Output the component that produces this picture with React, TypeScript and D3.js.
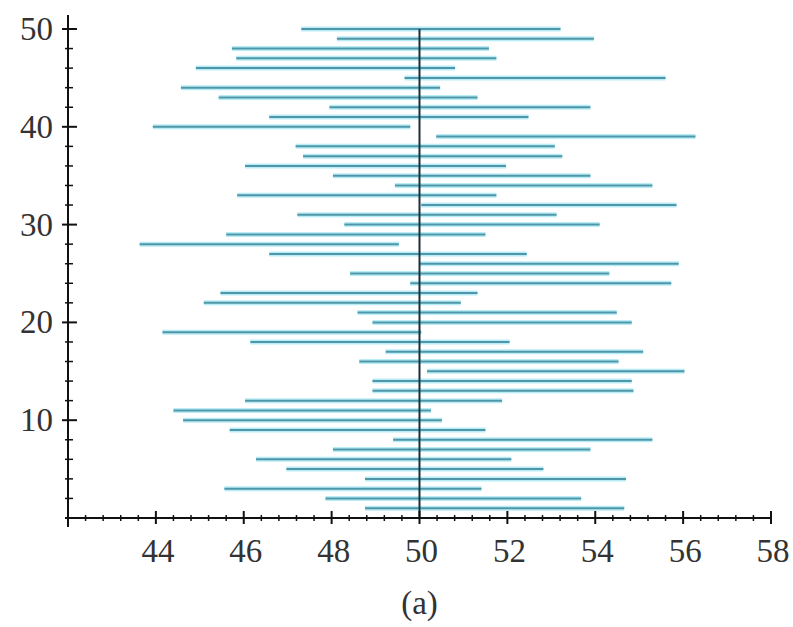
import * as React from 'react';
import * as d3 from 'd3';

// sample index 1..50 (bottom to top)
const lower = [
  48.76, 47.86, 45.56, 48.76, 46.97, 46.28, 48.03, 49.4, 45.68, 44.62,
  44.4, 46.03, 48.93, 48.93, 50.17, 48.63, 49.23, 46.15, 44.15, 48.93,
  48.59, 45.09, 45.47, 49.79, 48.42, 50.0, 46.58, 43.63, 45.6, 48.29,
  47.22, 50.04, 45.85, 49.44, 48.03, 46.03, 47.35, 47.18, 50.38, 43.93,
  46.58, 47.95, 45.43, 44.57, 49.66, 44.91, 45.83, 45.73, 48.12, 47.31
];
const upper = [
  54.66, 53.68, 51.41, 54.7, 52.82, 52.09, 53.89, 55.3, 51.5, 50.51,
  50.26, 51.88, 54.87, 54.83, 56.03, 54.53, 55.09, 52.05, 50.04, 54.83,
  54.49, 50.94, 51.32, 55.73, 54.32, 55.9, 52.44, 49.53, 51.5, 54.1,
  53.12, 55.85, 51.75, 55.3, 53.89, 51.97, 53.25, 53.08, 56.28, 49.79,
  52.48, 53.89, 51.32, 50.47, 55.6, 50.81, 51.75, 51.58, 53.97, 53.21
];
const trueMean = 50;
const xTickLabels = [44, 46, 48, 50, 52, 54, 56, 58];
const yTickLabels = [10, 20, 30, 40, 50];
const caption = '(a)';

const App = () => {
  const W = 793;
  const H = 627;
  const x = d3.scaleLinear().domain([42, 58]).range([68, 771]);
  const y = d3.scaleLinear().domain([0, 50]).range([518, 29]);

  const xMinor = d3.range(42, 58.001, 0.4).filter(v => Math.abs(v / 2 - Math.round(v / 2)) > 0.01);
  const yMinor = d3.range(2, 50, 2).filter(v => v % 10 !== 0);

  const font = '"Liberation Serif", "DejaVu Serif", serif';

  return (
    <svg width={W} height={H} style={{ position: 'absolute', left: 0, top: 0, background: '#fff' }}>
      {/* intervals */}
      <g>
        {lower.map((lo, i) => (
          <g key={i}>
            <line x1={x(lo)} x2={x(upper[i])} y1={y(i + 1)} y2={y(i + 1)} stroke="#b8ecf6" strokeWidth={5} />
            <line x1={x(lo)} x2={x(upper[i])} y1={y(i + 1)} y2={y(i + 1)} stroke="#4f97a8" strokeWidth={2} />
          </g>
        ))}
      </g>
      {/* true mean */}
      <line x1={x(trueMean)} x2={x(trueMean)} y1={y(0)} y2={y(50)} stroke="#1c3038" strokeWidth={2} />

      {/* x axis */}
      <line x1={65} x2={x(58)} y1={y(0)} y2={y(0)} stroke="#111" strokeWidth={2} />
      {xMinor.map(v => (
        <line key={'xm' + v} x1={x(v)} x2={x(v)} y1={y(0) - 3} y2={y(0) + 3} stroke="#111" strokeWidth={1.5} />
      ))}
      {xTickLabels.map(v => (
        <g key={'xt' + v}>
          <line x1={x(v)} x2={x(v)} y1={y(0) - 7} y2={y(0) + 6} stroke="#111" strokeWidth={2} />
          <text x={x(v) + 2} y={562} textAnchor="middle" fontFamily={font} fontSize={33} fill="#333">
            {v}
          </text>
        </g>
      ))}

      {/* y axis */}
      <line x1={x(42)} x2={x(42)} y1={15} y2={527} stroke="#111" strokeWidth={2} />
      {yMinor.map(v => (
        <line key={'ym' + v} x1={x(42) - 3} x2={x(42) + 5} y1={y(v)} y2={y(v)} stroke="#111" strokeWidth={1.5} />
      ))}
      {yTickLabels.map(v => (
        <g key={'yt' + v}>
          <line x1={x(42) - 6} x2={x(42) + 9} y1={y(v)} y2={y(v)} stroke="#111" strokeWidth={2} />
          <text x={53} y={y(v) + 11} textAnchor="end" fontFamily={font} fontSize={33} fill="#333">
            {v}
          </text>
        </g>
      ))}

      <text x={x(50)} y={614} textAnchor="middle" fontFamily={font} fontSize={33} fill="#333">
        {caption}
      </text>
    </svg>
  );
};

export default App;
